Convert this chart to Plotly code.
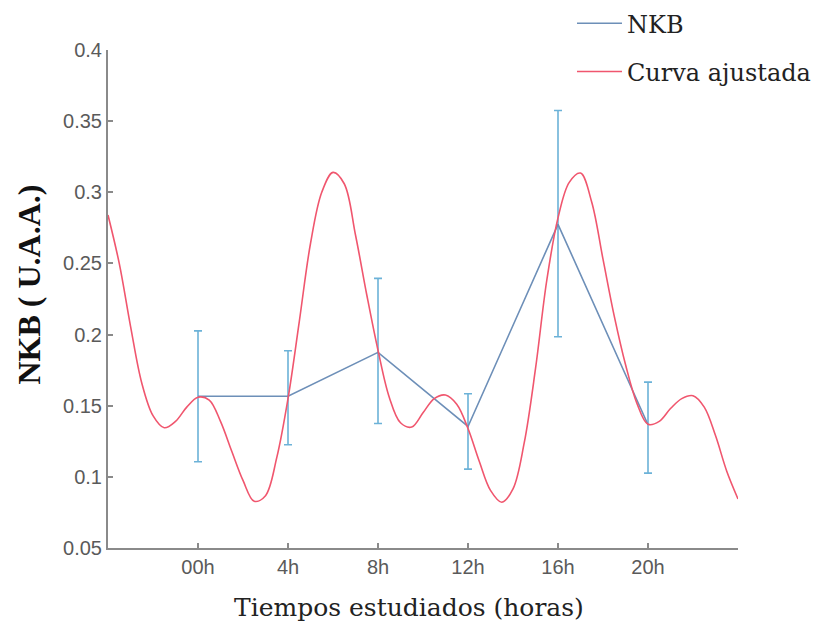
import plotly.graph_objects as go

# NKB measurements
hours = [0, 4, 8, 12, 16, 20]
tick_labels = ["00h", "4h", "8h", "12h", "16h", "20h"]
nkb = [0.1566, 0.1566, 0.1875, 0.1354, 0.2775, 0.1366]
err_plus = [0.046, 0.032, 0.052, 0.023, 0.080, 0.030]
err_minus = [0.046, 0.034, 0.050, 0.030, 0.079, 0.034]

# Fitted curve, every half hour
fit_hours = [-4.0, -3.5, -3.0, -2.5, -2.0, -1.5, -1.0, -0.5, 0.0, 0.5, 1.0, 1.5, 2.0, 2.5,
             3.0, 3.5, 4.0, 4.5, 5.0, 5.5, 6.0, 6.5, 7.0, 7.5, 8.0, 8.5, 9.0, 9.5,
             10.0, 10.5, 11.0, 11.5, 12.0, 12.5, 13.0, 13.5, 14.0, 14.5, 15.0, 15.5,
             16.0, 16.5, 17.0, 17.5, 18.0, 18.5, 19.0, 19.5, 20.0, 20.5, 21.0, 21.5,
             22.0, 22.5, 23.0, 23.5, 24.0]
fit_values = [0.284, 0.250, 0.206, 0.166, 0.143, 0.1345, 0.139, 0.149, 0.156, 0.154, 0.139,
              0.118, 0.0975, 0.0828, 0.0868, 0.1135, 0.155, 0.209, 0.264, 0.300, 0.314, 0.306,
              0.270, 0.228, 0.189, 0.156, 0.138, 0.135, 0.145, 0.155, 0.1575, 0.151, 0.134,
              0.111, 0.0905, 0.0822, 0.0915, 0.124, 0.176, 0.238, 0.282, 0.307, 0.3135, 0.293,
              0.253, 0.213, 0.179, 0.152, 0.137, 0.139, 0.148, 0.155, 0.157, 0.149, 0.129,
              0.104, 0.0845]

y_ticks = [0.05, 0.1, 0.15, 0.2, 0.25, 0.3, 0.35, 0.4]
y_tick_labels = ["0.05", "0.1", "0.15", "0.2", "0.25", "0.3", "0.35", "0.4"]

fig = go.Figure()
fig.add_trace(go.Scatter(
    x=hours, y=nkb, mode="lines", name="NKB", legendgroup="a",
    line=dict(color="#6d8fb8", width=1.6),
    error_y=dict(type="data", symmetric=False, array=err_plus, arrayminus=err_minus,
                 color="#6cb2d8", thickness=1.6, width=4),
))
fig.add_trace(go.Scatter(
    x=fit_hours, y=fit_values, mode="lines", name="Curva ajustada", legendgroup="b",
    line=dict(color="#f0566e", width=1.6, shape="spline", smoothing=1.0),
))

axis_common = dict(showline=True, linecolor="#8a8a8a", linewidth=2, showgrid=False,
                   zeroline=False, ticks="inside", ticklen=5, tickcolor="#8a8a8a",
                   tickwidth=1.5, mirror=False, automargin=False,
                   tickfont=dict(family="Liberation Sans, Arial", size=20, color="#5a5a5a"))

fig.update_layout(
    width=825, height=627,
    margin=dict(l=100, r=95, t=42, b=87, autoexpand=False),
    paper_bgcolor="white", plot_bgcolor="white",
    xaxis=dict(range=[-4, 24], tickvals=hours, ticktext=tick_labels, **axis_common),
    yaxis=dict(range=[0.05, 0.4], tickvals=y_ticks, ticktext=y_tick_labels, **axis_common),
    legend=dict(x=0.7365, y=1.098, xanchor="left", yanchor="top", itemwidth=45,
                bgcolor="rgba(0,0,0,0)", tracegroupgap=14,
                font=dict(family="DejaVu Serif", size=24, color="#222222")),
    showlegend=True,
    annotations=[
        dict(text="Tiempos estudiados (horas)", xref="paper", yref="paper",
             x=0.478, y=0, yshift=-59, xanchor="center", yanchor="middle",
             showarrow=False, font=dict(family="DejaVu Serif", size=25, color="#222222")),
        dict(text="<b>NKB ( U.A.A.)</b>", xref="paper", yref="paper",
             x=0, xshift=-79, y=0.529, xanchor="center", yanchor="middle", textangle=-90,
             showarrow=False,
             font=dict(family="Liberation Serif, Times New Roman", size=32, color="#111111")),
    ],
)

fig.write_html("out.html")
